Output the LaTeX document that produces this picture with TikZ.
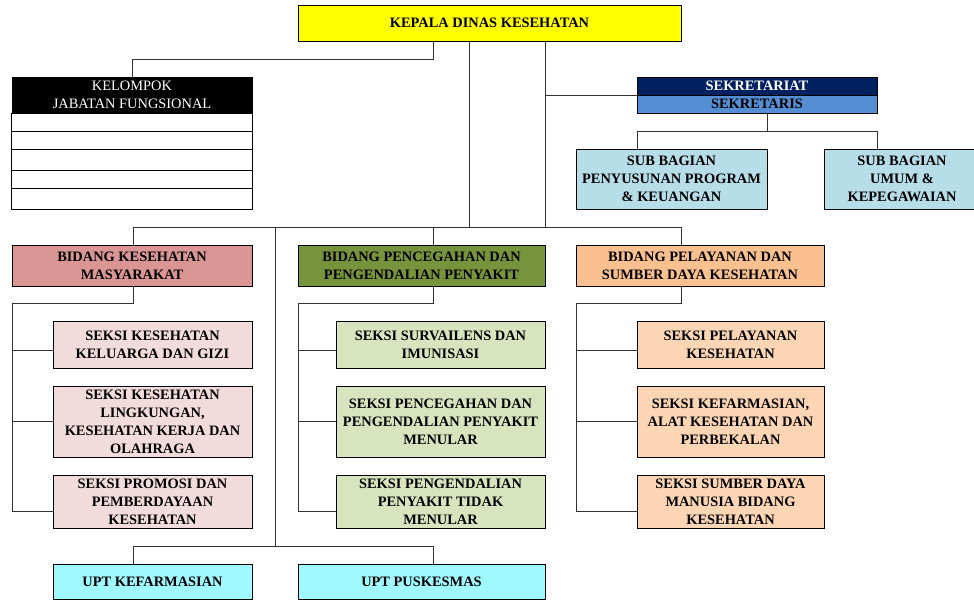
\documentclass[tikz,border=0pt]{standalone}
\usepackage{fontspec}
\setmainfont{Liberation Serif}
\usepackage{tikz}
\usetikzlibrary{positioning,calc}

\definecolor{kuning}{HTML}{FFFF00}
\definecolor{navy}{HTML}{002060}
\definecolor{biru}{HTML}{558ED5}
\definecolor{birumuda}{HTML}{B7DEE8}
\definecolor{merah}{HTML}{DA9694}
\definecolor{merahmuda}{HTML}{F2DCDB}
\definecolor{hijau}{HTML}{77933C}
\definecolor{hijaumuda}{HTML}{D7E4BD}
\definecolor{oranye}{HTML}{FAC090}
\definecolor{oranyemuda}{HTML}{FCD5B5}
\definecolor{cyanupt}{HTML}{9FF9FF}

\begin{document}
\begin{tikzpicture}[x=1pt, y=-1pt,
                    every unit/.style = {font=\bfseries\fontsize{14.4}{18}\selectfont},
                    unit/.style = {rectangle, draw=black, line width=1pt, inner xsep=2pt, inner ysep=0pt,
                            align=center, every unit},
                    kepala box/.style = {fill=kuning, unit},
                    sub box/.style = {fill=birumuda, unit},
                    upt box/.style = {fill=cyanupt, unit},
                    garis/.style = {draw=black!80, line width=0.9pt} ]

                \useasboundingbox (0,0) rectangle (974,600);

                % pimpinan
                \node [kepala box, minimum width=383pt, minimum height=36pt] (kepala) at (489.5,23) {KEPALA DINAS KESEHATAN};

                % kelompok jabatan fungsional
                \node [unit, fill=black, text=white, font=\fontsize{14.4}{18}\selectfont, minimum width=240pt, minimum height=36pt] (jabfung) at (132,95) {KELOMPOK\\JABATAN FUNGSIONAL};
                \draw [line width=1pt] (jabfung.south west) rectangle (252,209);
                \foreach \y in {131,149,170,188}
                    \draw [line width=1pt] (12,\y) -- (252,\y);

                % sekretariat
                \node [unit, fill=navy, text=white, minimum width=240pt, minimum height=18pt] (sekretariat) at (757,86) {SEKRETARIAT};
                \node [unit, fill=biru, minimum width=240pt, minimum height=18pt] (sekretaris) at (757,104) {SEKRETARIS};
                \node [sub box, minimum width=191pt, minimum height=60pt] (subprogram) at (671.5,179) {SUB BAGIAN\\PENYUSUNAN PROGRAM\\\& KEUANGAN};
                \node [sub box, minimum width=156pt, minimum height=60pt] (subumum) at (902,179) {SUB BAGIAN\\UMUM \&\\KEPEGAWAIAN};

                % bidang
                \node [unit, fill=merah, minimum width=240pt, minimum height=41pt] (bidkesmas) at (132,265.5) {BIDANG KESEHATAN\\MASYARAKAT};
                \node [unit, fill=hijau, minimum width=247pt, minimum height=41pt] (bidp2p) at (421.5,265.5) {BIDANG PENCEGAHAN DAN\\PENGENDALIAN PENYAKIT};
                \node [unit, fill=oranye, minimum width=248pt, minimum height=41pt] (bidyankes) at (700,265.5) {BIDANG PELAYANAN DAN\\SUMBER DAYA KESEHATAN};

                % seksi
                \node [unit, fill=merahmuda, minimum width=199pt, minimum height=47pt] (kesmas1) at (152.5,344.5) {SEKSI KESEHATAN\\KELUARGA DAN GIZI};
                \node [unit, fill=merahmuda, minimum width=199pt, minimum height=71pt] (kesmas2) at (152.5,421.5) {SEKSI KESEHATAN\\LINGKUNGAN,\\KESEHATAN KERJA DAN\\OLAHRAGA};
                \node [unit, fill=merahmuda, minimum width=199pt, minimum height=53pt] (kesmas3) at (152.5,501.5) {SEKSI PROMOSI DAN\\PEMBERDAYAAN\\KESEHATAN};

                \node [unit, fill=hijaumuda, minimum width=209pt, minimum height=47pt] (p2p1) at (440.5,344.5) {SEKSI SURVAILENS DAN\\IMUNISASI};
                \node [unit, fill=hijaumuda, minimum width=209pt, minimum height=71pt] (p2p2) at (440.5,421.5) {SEKSI PENCEGAHAN DAN\\PENGENDALIAN PENYAKIT\\MENULAR};
                \node [unit, fill=hijaumuda, minimum width=209pt, minimum height=53pt] (p2p3) at (440.5,501.5) {SEKSI PENGENDALIAN\\PENYAKIT TIDAK\\MENULAR};

                \node [unit, fill=oranyemuda, minimum width=187pt, minimum height=47pt] (yankes1) at (730.5,344.5) {SEKSI PELAYANAN\\KESEHATAN};
                \node [unit, fill=oranyemuda, minimum width=187pt, minimum height=71pt] (yankes2) at (730.5,421.5) {SEKSI KEFARMASIAN,\\ALAT KESEHATAN DAN\\PERBEKALAN};
                \node [unit, fill=oranyemuda, minimum width=187pt, minimum height=53pt] (yankes3) at (730.5,501.5) {SEKSI SUMBER DAYA\\MANUSIA BIDANG\\KESEHATAN};

                % upt
                \node [upt box, minimum width=199pt, minimum height=35pt] (uptfarmasi) at (152.5,581.5) {UPT KEFARMASIAN};
                \node [upt box, minimum width=247pt, minimum height=35pt] (uptpkm) at (421.5,581.5) {UPT PUSKESMAS};

                % garis kepala
                \coordinate (kj) at (433,59);
                \draw [garis] (kepala.south -| kj) -- (kj) -| (jabfung.north);
                \coordinate (trunkA) at (469,227);
                \coordinate (trunkB) at (545,227);
                \draw [garis] (kepala.south -| trunkA) -- (trunkA);
                \draw [garis] (kepala.south -| trunkB) -- (trunkB);
                \draw [garis] (trunkB |- sekretariat.south west) -- (sekretariat.south west);

                % garis sekretariat
                \coordinate (sj) at (767,131);
                \coordinate (sjL) at (637,131);
                \coordinate (sjR) at (877,131);
                \draw [garis] (sekretaris.south -| sj) -- (sj);
                \draw [garis] (sjL |- subprogram.north) -- (sjL) -- (sjR) -- (sjR |- subumum.north);

                % garis bidang
                \coordinate (barL) at (133,227);
                \coordinate (barU) at (275,227);
                \coordinate (barM) at (433,227);
                \coordinate (barR) at (681,227);
                \draw [garis] (barL) -- (barR);
                \draw [garis] (barL) -- (barL |- bidkesmas.north);
                \draw [garis] (barM) -- (barM |- bidp2p.north);
                \draw [garis] (barR) -- (barR |- bidyankes.north);

                % garis seksi
                \foreach \b/\xa/\xb in {kesmas/133/12, p2p/433/298, yankes/681/576} {
                    \coordinate (t1) at ($(\b1.south west)!.38!(\b1.north west)$);
                    \coordinate (t2) at (\b2.west);
                    \coordinate (t3) at ($(\b3.south west)!.32!(\b3.north west)$);
                    \draw [garis] (\xa,0 |- bid\b.south) |- (\xb,303) |- (t3);
                    \draw [garis] (\xb,0 |- t1) -- (t1);
                    \draw [garis] (\xb,0 |- t2) -- (t2);
                }

                % garis upt
                \coordinate (uj) at (275,546);
                \coordinate (uL) at (133,546);
                \coordinate (uR) at (433,546);
                \draw [garis] (barU) -- (uj);
                \draw [garis] (uL |- uptfarmasi.north) -- (uL) -- (uR) -- (uR |- uptpkm.north);
            \end{tikzpicture}
\end{document}
